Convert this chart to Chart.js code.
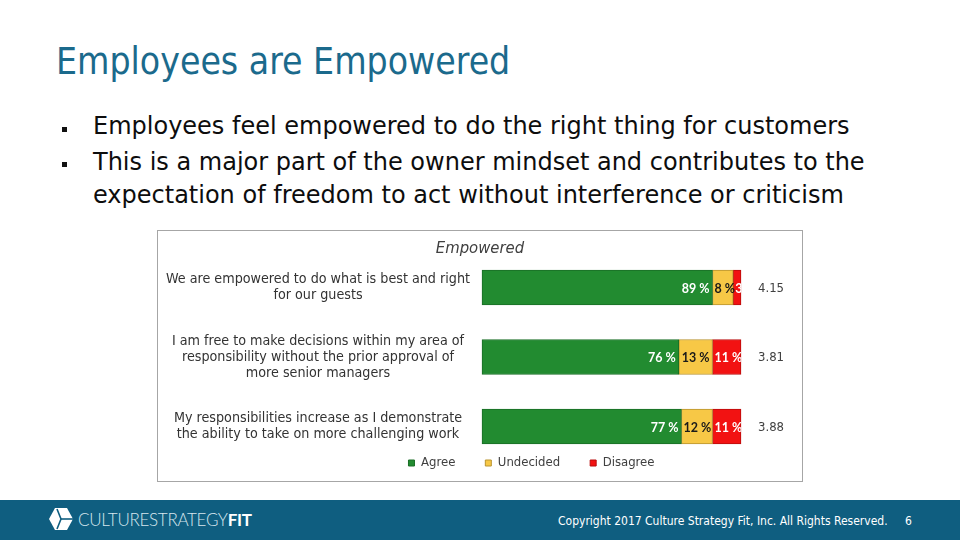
<!DOCTYPE html>
<html><head><meta charset="utf-8">
<script src="https://cdn.jsdelivr.net/npm/chart.js@4.4.1/dist/chart.umd.min.js"></script>
<style>
html,body{margin:0;padding:0;width:960px;height:540px;overflow:hidden;background:#fff;}
#slide{position:relative;width:960px;height:540px;}
.title{position:absolute;left:56px;top:40px;font-family:"DejaVu Sans Condensed","DejaVu Sans",sans-serif;font-size:37px;color:#1b6a8c;line-height:44px;white-space:nowrap}
.b{position:absolute;left:93px;font-family:"DejaVu Sans",sans-serif;font-size:24px;line-height:27px;white-space:nowrap;color:#0d0d0d}
.sq{position:absolute;left:62px;width:5px;height:5px;background:#111}
#box{position:absolute;left:157px;top:230px;width:644px;height:250px;border:1px solid #a6a6a6}
#ctitle{position:absolute;left:157px;width:646px;top:238px;text-align:center;font-family:"DejaVu Sans Condensed","DejaVu Sans",sans-serif;font-style:italic;font-size:16.5px;line-height:20px;color:#404040}
#cv{position:absolute;left:157px;top:230px;}
#footer{position:absolute;left:0;top:500px;width:960px;height:40px;background:#0f5e80}
#logo{position:absolute;left:48px;top:508px;}
#logotext{position:absolute;left:78px;top:510px;font-family:Lato,sans-serif;font-size:17px;line-height:20px;color:#d6e6ee;font-weight:300;letter-spacing:-0.3px;white-space:nowrap}
#logotext b{color:#fff;font-weight:700}
#copy{position:absolute;left:558px;top:513px;font-family:"DejaVu Sans Condensed","DejaVu Sans",sans-serif;font-size:12px;line-height:16px;color:#fff;white-space:nowrap}
#pnum{position:absolute;left:905px;top:513px;font-family:"DejaVu Sans Condensed","DejaVu Sans",sans-serif;font-size:12px;line-height:16px;color:#fff}
</style></head>
<body><div id="slide">
<div class="title">Employees are Empowered</div>
<div class="sq" style="top:127px"></div>
<div class="b" style="top:113px">Employees feel empowered to do the right thing for customers</div>
<div class="sq" style="top:162px"></div>
<div class="b" style="top:149px">This is a major part of the owner mindset and contributes to the</div>
<div class="b" style="top:182px">expectation of freedom to act without interference or criticism</div>
<div id="box"></div>
<canvas id="cv" width="646" height="252"></canvas>
<div id="ctitle">Empowered</div>
<div id="footer"></div>
<svg id="logo" width="26" height="22" viewBox="0 0 26 22">
<polygon points="7,0 19,0 25,11 19,22 7,22 1,11" fill="#ffffff"/>
<polyline points="9,1 13,11 9,21" fill="none" stroke="#0f5e80" stroke-width="1.6"/>
<line x1="13" y1="11" x2="25" y2="11" stroke="#0f5e80" stroke-width="1.6"/>
</svg>
<div id="logotext">CULTURESTRATEGY<b>FIT</b></div>
<div id="copy">Copyright 2017 Culture Strategy Fit, Inc. All Rights Reserved.</div>
<div id="pnum">6</div>
</div>
<script>
const categories = [
  ["We are empowered to do what is best and right", "for our guests"],
  ["I am free to make decisions within my area of", "responsibility without the prior approval of", "more senior managers"],
  ["My responsibilities increase as I demonstrate", "the ability to take on more challenging work"]
];
const seriesNames = ["Agree", "Undecided", "Disagree"];
const agree = [89, 76, 77];
const undecided = [8, 13, 12];
const disagree = [3, 11, 11];
const means = [4.15, 3.81, 3.88];

const FONT = '"DejaVu Sans Condensed", "DejaVu Sans", sans-serif';
const fills = ["#228b30", "#f7c846", "#f21212"];
const edges = ["#1a6e26", "#b99430", "#b80d0d"];
const labelColors = ["#ffffff", "#1a1a1a", "#ffffff"];

const segLabels = {
  id: 'segLabels',
  afterDatasetsDraw(chart) {
    const {ctx, chartArea} = chart;
    ctx.save();
    ctx.beginPath();
    ctx.rect(chartArea.left, 0, chartArea.right - chartArea.left, chart.height);
    ctx.clip();
    ctx.font = 'bold 12.5px Lato';
    ctx.textBaseline = 'middle';
    ctx.textAlign = 'left';
    chart.data.datasets.forEach((ds, di) => {
      const meta = chart.getDatasetMeta(di);
      meta.data.forEach((bar, i) => {
        const txt = ds.data[i] + ' %';
        const w = ctx.measureText(txt).width;
        const l = Math.min(bar.base, bar.x), r = Math.max(bar.base, bar.x);
        let x = r - 3 - w;
        if (x < l + 2) x = l + 2;
        ctx.fillStyle = labelColors[di];
        ctx.fillText(txt, x, bar.y + 1);
      });
    });
    ctx.restore();
    ctx.save();
    ctx.font = '13px ' + FONT;
    ctx.fillStyle = '#404040';
    ctx.textBaseline = 'middle';
    ctx.textAlign = 'left';
    const m0 = chart.getDatasetMeta(0);
    means.forEach((m, i) => ctx.fillText(m.toFixed(2), chartArea.right + 17, m0.data[i].y + 1));
    ctx.restore();
  }
};

// centre the library legend under the plot as in the original slide
const legendCentre = {
  id: 'legendCentre',
  afterLayout(chart) {
    const lg = chart.legend;
    if (!lg) return;
    const shift = 374.5 - (lg.left + lg.right) / 2;
    lg.left += shift;
    lg.right += shift;
  }
};

const seriesData = [agree, undecided, disagree];
new Chart(document.getElementById('cv'), {
  type: 'bar',
  data: {
    labels: categories,
    datasets: seriesNames.map((n, k) => ({
      label: n,
      data: seriesData[k],
      backgroundColor: fills[k],
      borderColor: edges[k],
      borderWidth: 1,
      borderSkipped: false,
      barThickness: 35,
      clip: false
    }))
  },
  options: {
    indexAxis: 'y',
    responsive: false,
    animation: false,
    devicePixelRatio: 1,
    layout: {padding: {left: 0, right: 62, top: 57.5, bottom: 2.5}},
    scales: {
      x: {stacked: true, min: 0, max: 100, display: false},
      y: {
        stacked: true, offset: false,
        grid: {display: false, drawTicks: false},
        border: {display: false},
        ticks: {padding: 12, crossAlign: 'center', color: '#333333', font: {family: FONT, size: 14.2, lineHeight: 1.13}},
        afterFit(s) { s.width = 325; }
      }
    },
    plugins: {
      legend: {
        position: 'bottom',
        labels: {boxWidth: 6, boxHeight: 6, padding: 30, color: '#404040', font: {family: FONT, size: 13}}
      },
      title: {display: false},
      tooltip: {enabled: false}
    }
  },
  plugins: [segLabels, legendCentre]
});
</script>
</body></html>
